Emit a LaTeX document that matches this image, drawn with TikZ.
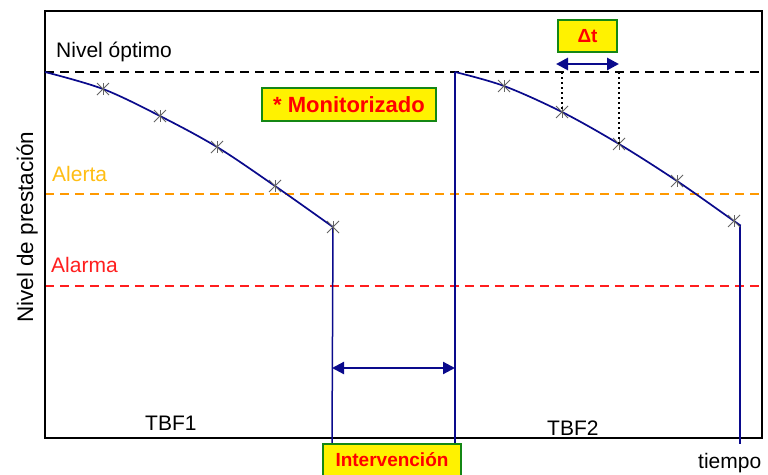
\documentclass[tikz,border=0pt]{standalone}
\usepackage{fontspec}
\setmainfont{Liberation Sans}
\usetikzlibrary{arrows.meta}
\definecolor{curveblue}{RGB}{10,10,140}
\definecolor{alertorange}{RGB}{255,153,0}
\definecolor{alerttext}{RGB}{255,190,20}
\definecolor{alarmred}{RGB}{255,30,30}
\definecolor{boxgreen}{RGB}{20,135,20}
\definecolor{markgray}{RGB}{100,100,100}
\tikzset{
  lbl/.style={inner sep=0pt, font=\fontsize{21}{25}\selectfont},
  tag/.style={draw=boxgreen, line width=2.6pt, fill=yellow, text=red, inner sep=0pt,
    font=\bfseries\fontsize{19}{23}\selectfont},
  level/.style={dash pattern=on 9pt off 6pt, line width=1.5pt},
  wear/.style={curveblue, line width=1.7pt},
  bar/.style={curveblue, line width=1.5pt},
  span/.style={curveblue, line width=2.2pt, {Triangle[length=12pt,width=12pt]}-{Triangle[length=12pt,width=12pt]}},
  xmark/.style={markgray, line width=0.9pt},
  guide/.style={black, line width=1.3pt, dash pattern=on 2pt off 3pt}
}
% six-armed measurement mark centred on (x,y)
\newcommand{\starmark}[2]{%
  \draw[xmark] (#1-6,#2-6) -- (#1+6,#2+6);
  \draw[xmark] (#1-6,#2+6) -- (#1+6,#2-6);
  \draw[xmark] (#1,#2-6) -- (#1,#2+6);}
\begin{document}
\begin{tikzpicture}[x=1pt,y=-1pt]
\useasboundingbox (0,0) rectangle (768,474);
\fill[white] (0,0) rectangle (768,474);

% reference levels
\draw[level, black] (45,72) -- (762,72);
\draw[level, alertorange] (45,194) -- (762,194);
\draw[level, alarmred] (45,286) -- (762,286);

% axes frame
\draw[black, line width=1.4pt] (45,11) rectangle (762,438);

% named points
\coordinate (s1) at (45,72);
\coordinate (e1) at (333,227);
\coordinate (s2) at (455,72);
\coordinate (e2) at (740,225);
\coordinate (b1) at (332,444);
\coordinate (b2) at (455,444);
\coordinate (b3) at (740,444);
\coordinate (a1) at (332,368);
\coordinate (a2) at (455,368);
\coordinate (d1) at (556,64);
\coordinate (d2) at (619,64);
\coordinate (m1) at (562,112);
\coordinate (m2) at (619,144);
\coordinate (t1) at (562,72);
\coordinate (t2) at (619,72);

% first cycle
\draw[wear] plot[smooth, tension=0.55] coordinates {(45,72) (103,89) (160,116) (217,147) (275,186) (333,227)};
\draw[bar] (e1) -- (b1);
\foreach \px/\py in {103/89,160/116,217/147,275/186,333/227} {\starmark{\px}{\py}}

% second cycle
\draw[bar] (s2) -- (b2);
\draw[wear] plot[smooth, tension=0.55] coordinates {(455,72) (504,86) (562,112) (619,144) (677,181) (734,221) (740,225)};
\draw[bar] (e2) -- (b3);
\foreach \px/\py in {504/86,562/112,619/144,677/181,734/221} {\starmark{\px}{\py}}

% interval guides
\draw[guide] (t1) -- (m1);
\draw[guide] (t2) -- (m2);
\draw[span, line width=2.8pt] (d1) -- (d2);
\draw[span] (a1) -- (a2);

% labels
\node[lbl, anchor=base west] (opt) at (56,57) {Nivel óptimo};
\node[lbl, anchor=base west, text=alerttext] (alerta) at (52,181) {Alerta};
\node[lbl, anchor=base west, text=alarmred] (alarma) at (51,272) {Alarma};
\node[lbl, anchor=base west] (tbf1) at (145,430) {TBF1};
\node[lbl, anchor=base west] (tbf2) at (547,435) {TBF2};
\node[lbl, anchor=base west] (tiempo) at (698,468) {tiempo};
\node[lbl, anchor=base west, rotate=90, font=\fontsize{22.5}{26}\selectfont] (ylab) at (33,323) {Nivel de prestación};

% tags
\node[tag, minimum width=174pt, minimum height=33pt, font=\bfseries\fontsize{22}{26}\selectfont] (mon) at (349,104.5) {* Monitorizado};
\node[tag, minimum width=138pt, minimum height=32pt] (inter) at (392,460) {Intervención};
\node[tag, minimum width=59pt, minimum height=32pt, font=\bfseries\fontsize{19}{22}\selectfont] (dt) at (587.5,36) {Δt};
\end{tikzpicture}
\end{document}
